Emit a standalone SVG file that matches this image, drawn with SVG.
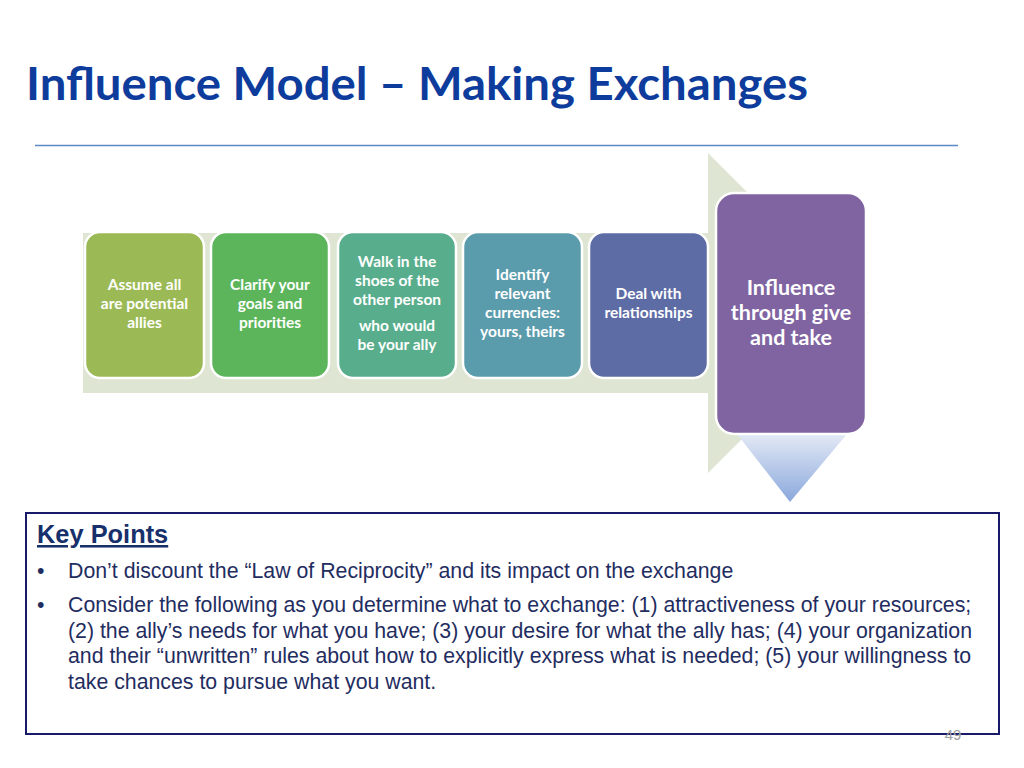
<svg xmlns="http://www.w3.org/2000/svg" width="1024" height="768" viewBox="0 0 1024 768">
<defs>
<linearGradient id="tri" x1="0" y1="0" x2="0" y2="1">
<stop offset="0" stop-color="#E3E9F5"/>
<stop offset="1" stop-color="#8AA8DC"/>
</linearGradient>
<style>
.box{stroke:#FFFFFF;stroke-width:2.5}
.bt{font-family:Lato,"Open Sans","DejaVu Sans",sans-serif;font-weight:bold;font-size:15.5px;fill:#FFFFFF;text-anchor:middle}
.big{font-size:21.5px}
.kp{font-family:"Liberation Sans",Arial,sans-serif;font-size:21.3px;fill:#1F2D5F}
</style>
</defs>
<rect width="1024" height="768" fill="#FFFFFF"/>
<text x="26" y="100" font-family="Lato,'Open Sans',sans-serif" font-weight="bold" font-size="46" fill="#0E3C9C" textLength="782" lengthAdjust="spacingAndGlyphs">Influence Model – Making Exchanges</text>
<line x1="35" y1="145.5" x2="958" y2="145.5" stroke="#5B8AC6" stroke-width="1.5"/>
<g id="arrow">
<path d="M83,233 H708 V153 L868,313 L708,473 V393 H83 Z" fill="#DFE5D3"/>
</g>
<g id="node1">
<rect class="box" x="85" y="232" width="119" height="146" rx="15" fill="#9BBA56"/>
<text class="bt"><tspan x="144.5" y="290">Assume all</tspan><tspan x="144.5" y="309">are potential</tspan><tspan x="144.5" y="328">allies</tspan></text>
</g>
<g id="node2">
<rect class="box" x="211" y="232" width="118" height="146" rx="15" fill="#5DB55B"/>
<text class="bt"><tspan x="270" y="290">Clarify your</tspan><tspan x="270" y="309">goals and</tspan><tspan x="270" y="328">priorities</tspan></text>
</g>
<g id="node3">
<rect class="box" x="338" y="232" width="118" height="146" rx="15" fill="#58AE8C"/>
<text class="bt"><tspan x="397" y="267">Walk in the</tspan><tspan x="397" y="286">shoes of the</tspan><tspan x="397" y="305">other person</tspan><tspan x="397" y="331">who would</tspan><tspan x="397" y="350">be your ally</tspan></text>
</g>
<g id="node4">
<rect class="box" x="463" y="232" width="119" height="146" rx="15" fill="#5B9CAC"/>
<text class="bt"><tspan x="522.5" y="280">Identify</tspan><tspan x="522.5" y="299">relevant</tspan><tspan x="522.5" y="318">currencies:</tspan><tspan x="522.5" y="337">yours, theirs</tspan></text>
</g>
<g id="node5">
<rect class="box" x="589" y="232" width="119" height="146" rx="15" fill="#5E6CA6"/>
<text class="bt"><tspan x="648.5" y="299">Deal with</tspan><tspan x="648.5" y="318">relationships</tspan></text>
</g>
<g id="node6">
<path d="M737,434 L847,434 L790,502 Z" fill="url(#tri)"/>
<rect class="box" x="716" y="193" width="150" height="241" rx="18" fill="#8064A2"/>
<text class="bt big"><tspan x="791" y="295">Influence</tspan><tspan x="791" y="320">through give</tspan><tspan x="791" y="345">and take</tspan></text>
</g>
<g id="keypoints">
<rect x="26" y="513" width="973" height="221" fill="none" stroke="#1A1A6B" stroke-width="2"/>
<text x="37" y="543" font-family="'Liberation Sans',Arial,sans-serif" font-weight="bold" font-size="25.4" fill="#17306B" text-decoration="underline">Key Points</text>
<text class="kp" x="37" y="578">•</text>
<text class="kp" x="68" y="578">Don’t discount the “Law of Reciprocity” and its impact on the exchange</text>
<text class="kp" x="37" y="612">•</text>
<text class="kp"><tspan x="68" y="612">Consider the following as you determine what to exchange: (1) attractiveness of your resources;</tspan><tspan x="68" y="638">(2) the ally’s needs for what you have; (3) your desire for what the ally has; (4) your organization</tspan><tspan x="68" y="663">and their “unwritten” rules about how to explicitly express what is needed; (5) your willingness to</tspan><tspan x="68" y="689">take chances to pursue what you want.</tspan></text>
</g>
<text x="953" y="740" text-anchor="middle" font-family="'Liberation Sans',Arial,sans-serif" font-size="15" fill="#A0A0A0">49</text>
</svg>
